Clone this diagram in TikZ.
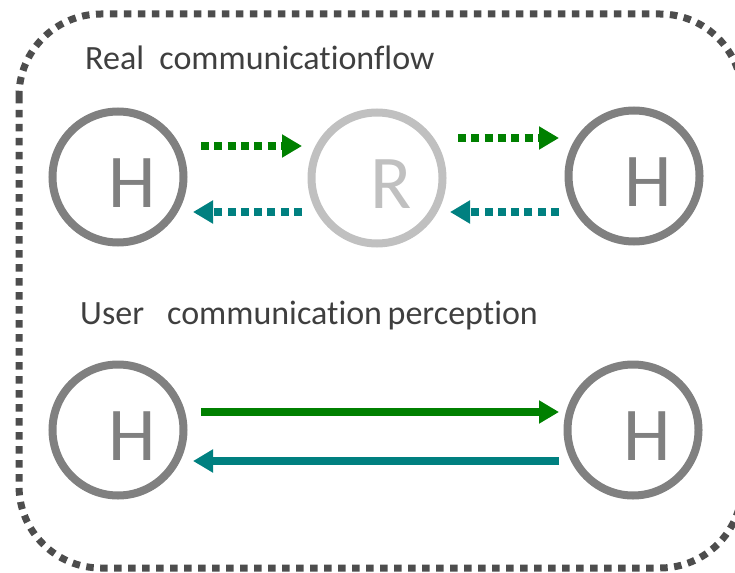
\documentclass[tikz,border=0pt]{standalone}
\usepackage{fontspec}
\setmainfont{Carlito}[Ligatures={NoCommon}]
\usetikzlibrary{arrows.meta}
\definecolor{ringgray}{HTML}{808080}
\definecolor{ringlight}{HTML}{C0C0C0}
\definecolor{bordergray}{HTML}{4D4D4D}
\definecolor{txtgray}{HTML}{3F3F3F}
\definecolor{flowgreen}{HTML}{008000}
\definecolor{flowteal}{HTML}{008080}
\begin{document}
\begin{tikzpicture}[x=1pt,y=-1pt,
  host/.style={circle, draw=ringgray, line width=8pt, minimum size=131pt, inner sep=0pt},
  router/.style={host, draw=ringlight},
  hlabel/.style={font=\fontsize{76}{76}\selectfont, text=ringgray, xshift=14pt, yshift=-6pt, inner sep=0pt},
  rlabel/.style={hlabel, text=ringlight},
  heading/.style={font=\fontsize{34}{34}\selectfont, text=txtgray, anchor=base west, inner sep=0pt},
  tipstyle/.style={-{Triangle[length=20pt,width=22pt]}},
  dotflow/.style={line width=8pt, dash pattern=on 8pt off 5.3pt, tipstyle},
  solidflow/.style={line width=8pt, tipstyle},
  border/.style={draw=bordergray, line width=7pt, dash pattern=on 7.5pt off 6.5pt, rounded corners=82pt}
]
\useasboundingbox (0,0) rectangle (735,572);
\clip (0,0) rectangle (735,572);
\draw[border] (19,14) rectangle (742,568);

\node[heading] (t1) at (85,70) {Real\ \ communicationflow};
\node[heading] (t2) at (80,324) {User\ \ \ communication\,perception};

\node[host, label={[hlabel]center:H}] (h1) at (118,177) {};
\node[router, label={[rlabel]center:R}] (r) at (377,178) {};
\node[host, label={[hlabel]center:H}] (h2) at (634,176) {};
\node[host, label={[hlabel]center:H}] (h3) at (118,430) {};
\node[host, label={[hlabel]center:H}] (h4) at (633,430) {};

\coordinate (g1s) at (201,146); \coordinate (g1e) at (302,146);
\coordinate (t1s) at (302,212); \coordinate (t1e) at (193,212);
\coordinate (g2s) at (458,138); \coordinate (g2e) at (559,138);
\coordinate (t2s) at (559,212); \coordinate (t2e) at (450,212);
\coordinate (g3s) at (201,412); \coordinate (g3e) at (559,412);
\coordinate (t3s) at (559,461); \coordinate (t3e) at (193,461);

\draw[dotflow, flowgreen] (g1s) -- (g1e);
\draw[dotflow, flowteal] (t1s) -- (t1e);
\draw[dotflow, flowgreen] (g2s) -- (g2e);
\draw[dotflow, flowteal] (t2s) -- (t2e);
\draw[solidflow, flowgreen] (g3s) -- (g3e);
\draw[solidflow, flowteal] (t3s) -- (t3e);
\end{tikzpicture}
\end{document}
